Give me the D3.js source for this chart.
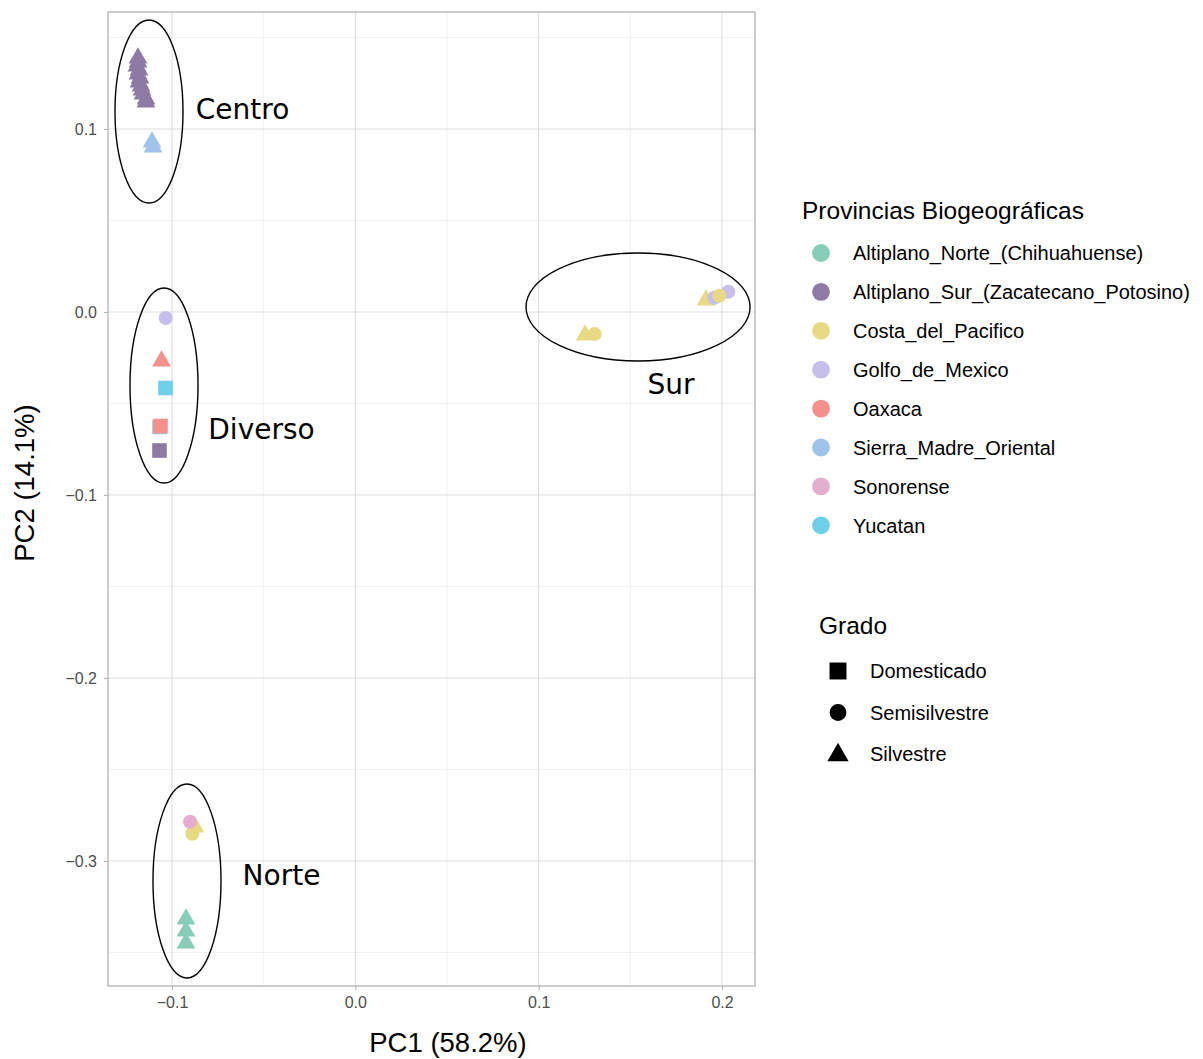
<!DOCTYPE html>
<html>
<head>
<meta charset="utf-8">
<script src="https://cdn.jsdelivr.net/npm/d3@7"></script>
<style>
  body { margin: 0; background: #fff; }
  svg { display: block; }
</style>
</head>
<body>
<svg id="chart" width="1203" height="1059"></svg>
<script>
// ---------- data ----------
const provinces = [
  "Altiplano_Norte_(Chihuahuense)",
  "Altiplano_Sur_(Zacatecano_Potosino)",
  "Costa_del_Pacifico",
  "Golfo_de_Mexico",
  "Oaxaca",
  "Sierra_Madre_Oriental",
  "Sonorense",
  "Yucatan"
];
const provinceColors = ["#87CDB8", "#8D7BA6", "#E8D985", "#C6BFEB", "#F4918C", "#A0C3EA", "#E4AECF", "#6ED0E8"];
const grados = ["Domesticado", "Semisilvestre", "Silvestre"];

// point rows (drawn in this order)
const pointProvince = [
  "Altiplano_Sur_(Zacatecano_Potosino)", "Altiplano_Sur_(Zacatecano_Potosino)", "Altiplano_Sur_(Zacatecano_Potosino)",
  "Altiplano_Sur_(Zacatecano_Potosino)", "Altiplano_Sur_(Zacatecano_Potosino)", "Altiplano_Sur_(Zacatecano_Potosino)",
  "Altiplano_Sur_(Zacatecano_Potosino)", "Altiplano_Sur_(Zacatecano_Potosino)", "Altiplano_Sur_(Zacatecano_Potosino)",
  "Altiplano_Sur_(Zacatecano_Potosino)", "Altiplano_Sur_(Zacatecano_Potosino)", "Altiplano_Sur_(Zacatecano_Potosino)",
  "Sierra_Madre_Oriental", "Sierra_Madre_Oriental",
  "Golfo_de_Mexico", "Oaxaca", "Yucatan", "Sierra_Madre_Oriental", "Oaxaca", "Altiplano_Sur_(Zacatecano_Potosino)",
  "Costa_del_Pacifico", "Costa_del_Pacifico", "Sonorense",
  "Altiplano_Norte_(Chihuahuense)", "Altiplano_Norte_(Chihuahuense)", "Altiplano_Norte_(Chihuahuense)",
  "Costa_del_Pacifico", "Costa_del_Pacifico", "Costa_del_Pacifico",
  "Golfo_de_Mexico", "Golfo_de_Mexico", "Costa_del_Pacifico"
];
const pointGrado = [
  "Silvestre", "Silvestre", "Silvestre", "Silvestre", "Silvestre", "Silvestre",
  "Silvestre", "Silvestre", "Silvestre", "Silvestre", "Silvestre", "Silvestre",
  "Silvestre", "Silvestre",
  "Semisilvestre", "Silvestre", "Domesticado", "Domesticado", "Domesticado", "Domesticado",
  "Silvestre", "Semisilvestre", "Semisilvestre",
  "Silvestre", "Silvestre", "Silvestre",
  "Silvestre", "Semisilvestre", "Silvestre",
  "Semisilvestre", "Semisilvestre", "Semisilvestre"
];
const pc1 = [
  -0.11855, -0.11855, -0.11909, -0.11800, -0.11855, -0.11746,
  -0.11800, -0.11691, -0.11636, -0.11582, -0.11418, -0.11418,
  -0.11091, -0.11036,
  -0.10344, -0.10573, -0.10355, -0.10682, -0.10627, -0.10682,
  -0.08745, -0.08893, -0.09018,
  -0.09236, -0.09236, -0.09236,
  0.12528, 0.13052, 0.19128,
  0.19581, 0.20345, 0.19854
];
const pc2 = [
  0.13880, 0.13661, 0.13443, 0.13224, 0.13005, 0.12787,
  0.12568, 0.12350, 0.12131, 0.11913, 0.11639, 0.11475,
  0.09290, 0.09016,
  -0.00328, -0.02678, -0.04153, -0.06284, -0.06230, -0.07568,
  -0.28142, -0.28508, -0.27852,
  -0.33169, -0.33825, -0.34481,
  -0.01257, -0.01202, 0.00656,
  0.00781, 0.01109, 0.00891
];

// cluster ellipses (data units) and labels
const clusterNames = ["Centro", "Diverso", "Norte", "Sur"];
const ellipseCx = [-0.11255, -0.10436, -0.09182, 0.15420];
const ellipseCy = [0.10956, -0.04016, -0.31090, 0.00273];
const ellipseRx = [0.01855, 0.01855, 0.01855, 0.06110];
const ellipseRy = [0.05000, 0.05330, 0.05300, 0.02950];
const labelX = [-0.06154, -0.05118, -0.04027, 0.17219];
const labelY = [0.11090, -0.06390, -0.30770, -0.03934];

// axes
const xTicks = [-0.1, 0.0, 0.1, 0.2];
const xMinor = [-0.05, 0.05, 0.15];
const yTicks = [0.1, 0.0, -0.1, -0.2, -0.3];
const yMinor = [0.15, 0.05, -0.05, -0.15, -0.25, -0.35];
const xTitle = "PC1 (58.2%)";
const yTitle = "PC2 (14.1%)";
const legendTitle1 = "Provincias Biogeográficas";
const legendTitle2 = "Grado";

// ---------- layout ----------
const panel = { left: 108, right: 755, top: 12, bottom: 986 };
const svg = d3.select("#chart");
const FONT = "'Liberation Sans', Arial, Helvetica, sans-serif";

const x = d3.scaleLinear().domain([-0.1, 0.2]).range([172, 722]);
const y = d3.scaleLinear().domain([0.1, -0.3]).range([129, 861]);
const color = d3.scaleOrdinal().domain(provinces).range(provinceColors);

// gridlines
const grid = svg.append("g");
xMinor.forEach(v => grid.append("line").attr("x1", x(v)).attr("x2", x(v))
  .attr("y1", panel.top).attr("y2", panel.bottom).attr("stroke", "#EBEBEB").attr("stroke-width", 0.7));
yMinor.forEach(v => grid.append("line").attr("y1", y(v)).attr("y2", y(v))
  .attr("x1", panel.left).attr("x2", panel.right).attr("stroke", "#EBEBEB").attr("stroke-width", 0.7));
xTicks.forEach(v => grid.append("line").attr("x1", x(v)).attr("x2", x(v))
  .attr("y1", panel.top).attr("y2", panel.bottom).attr("stroke", "#DEDEDE").attr("stroke-width", 1.1));
yTicks.forEach(v => grid.append("line").attr("y1", y(v)).attr("y2", y(v))
  .attr("x1", panel.left).attr("x2", panel.right).attr("stroke", "#DEDEDE").attr("stroke-width", 1.1));

// shapes
function shapePath(g, cx, cy, scale) {
  if (g === "Domesticado") {
    const s = 7.3 * scale;
    return `M${cx - s},${cy - s}H${cx + s}V${cy + s}H${cx - s}Z`;
  } else if (g === "Semisilvestre") {
    const r = 7 * scale;
    return `M${cx + r},${cy}A${r},${r} 0 1,1 ${cx - r},${cy}A${r},${r} 0 1,1 ${cx + r},${cy}Z`;
  } else {
    const R = 10.85 * scale;
    const h = R * Math.sqrt(3) / 2;
    return `M${cx},${cy - R}L${cx + h},${cy + R / 2}L${cx - h},${cy + R / 2}Z`;
  }
}

const pts = pc1.map((v, i) => ({ x: v, y: pc2[i], p: pointProvince[i], g: pointGrado[i] }));
svg.append("g").selectAll("path").data(pts).join("path")
  .attr("d", d => shapePath(d.g, x(d.x), y(d.y), 1))
  .attr("fill", d => color(d.p));

// ellipses
svg.append("g").selectAll("ellipse").data(clusterNames).join("ellipse")
  .attr("cx", (d, i) => x(ellipseCx[i]))
  .attr("cy", (d, i) => y(ellipseCy[i]))
  .attr("rx", (d, i) => x(ellipseRx[i]) - x(0))
  .attr("ry", (d, i) => y(0) - y(ellipseRy[i]))
  .attr("fill", "none").attr("stroke", "#000").attr("stroke-width", 1.4);

// cluster labels
svg.append("g").selectAll("text").data(clusterNames).join("text")
  .attr("x", (d, i) => x(labelX[i]))
  .attr("y", (d, i) => y(labelY[i]))
  .attr("dy", "0.36em")
  .attr("text-anchor", "middle")
  .attr("font-family", "'DejaVu Sans', sans-serif")
  .attr("font-size", 28)
  .attr("fill", "#000")
  .text(d => d);

// panel border
svg.append("rect").attr("x", panel.left).attr("y", panel.top)
  .attr("width", panel.right - panel.left).attr("height", panel.bottom - panel.top)
  .attr("fill", "none").attr("stroke", "#B3B3B3").attr("stroke-width", 1.3);

// axes
const fmt = v => (v < 0 ? "\u2212" : "") + Math.abs(v).toFixed(1);
const xAxis = d3.axisBottom(x).tickValues(xTicks).tickFormat(fmt).tickSize(4).tickPadding(7);
const yAxis = d3.axisLeft(y).tickValues(yTicks).tickFormat(fmt).tickSize(4).tickPadding(7);

const gx = svg.append("g").attr("transform", `translate(0,${panel.bottom})`).call(xAxis);
const gy = svg.append("g").attr("transform", `translate(${panel.left},0)`).call(yAxis);
[gx, gy].forEach(g => {
  g.select(".domain").remove();
  g.selectAll(".tick line").attr("stroke", "#B3B3B3").attr("stroke-width", 1.1);
  g.selectAll(".tick text").attr("fill", "#4D4D4D").attr("font-size", 16).attr("font-family", FONT);
});

// axis titles
svg.append("text").attr("x", 448).attr("y", 1052)
  .attr("text-anchor", "middle").attr("font-family", FONT).attr("font-size", 27.5)
  .attr("fill", "#000").text(xTitle);
svg.append("text").attr("transform", `translate(34,483) rotate(-90)`)
  .attr("text-anchor", "middle").attr("font-family", FONT).attr("font-size", 27.5)
  .attr("fill", "#000").text(yTitle);

// legend 1
const leg1 = svg.append("g");
leg1.append("text").attr("x", 802).attr("y", 219).attr("font-family", FONT).attr("font-size", 24.5)
  .attr("fill", "#000").text(legendTitle1);
provinces.forEach((p, i) => {
  const cy = 253 + i * 38.9;
  leg1.append("circle").attr("cx", 821).attr("cy", cy).attr("r", 8.9).attr("fill", provinceColors[i]);
  leg1.append("text").attr("x", 853).attr("y", cy).attr("dy", "0.36em")
    .attr("font-family", FONT).attr("font-size", 20).attr("fill", "#000").text(p);
});

// legend 2
const leg2 = svg.append("g");
leg2.append("text").attr("x", 819).attr("y", 634).attr("font-family", FONT).attr("font-size", 24.5)
  .attr("fill", "#000").text(legendTitle2);
grados.forEach((g, i) => {
  const cy = 671 + i * 41.5;
  const sc = g === "Silvestre" ? 1.13 : (g === "Domesticado" ? 1.16 : 1.2);
  leg2.append("path").attr("d", shapePath(g, 838, cy + (g === "Silvestre" ? 1 : 0), sc)).attr("fill", "#000");
  leg2.append("text").attr("x", 870).attr("y", cy).attr("dy", "0.36em")
    .attr("font-family", FONT).attr("font-size", 20).attr("fill", "#000").text(g);
});
</script>
</body>
</html>
